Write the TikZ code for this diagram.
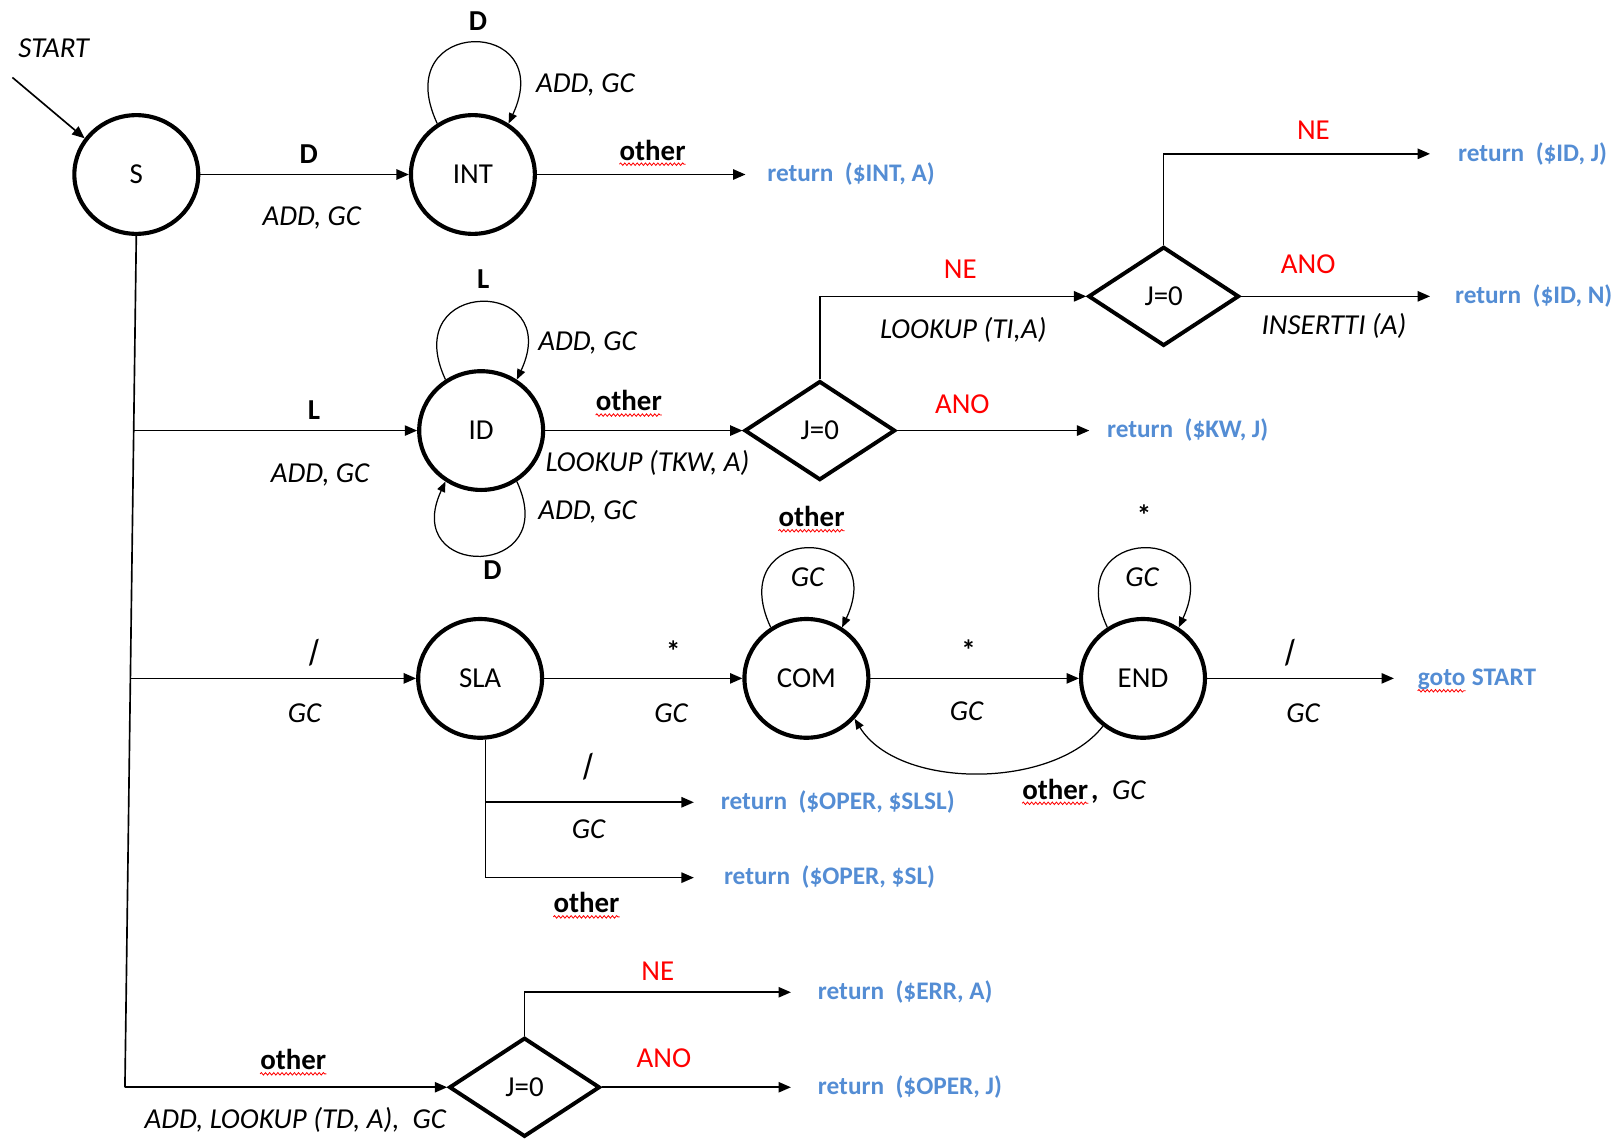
\documentclass[tikz,border=0pt]{standalone}
\usepackage{fontspec}
\setmainfont{Carlito}
\usetikzlibrary{shapes.geometric,arrows.meta,decorations.pathmorphing}
\definecolor{retblue}{RGB}{84,141,212}
\newcommand\steepslash{\rotatebox[origin=c]{16}{/}}
\begin{document}
\begin{tikzpicture}[x=1pt,y=1pt,
  stnode/.style={ellipse,draw,line width=4pt,minimum width=120pt,minimum height=115pt,inner sep=0pt,font=\fontsize{28}{30}\selectfont},
  cond/.style={diamond,draw,line width=3.8pt,minimum width=146pt,minimum height=96pt,inner sep=0pt,font=\fontsize{28}{30}\selectfont},
  lab/.style={inner sep=0pt,anchor=base,font=\fontsize{28}{30}\selectfont\itshape},
  blab/.style={inner sep=0pt,anchor=base,font=\fontsize{28}{30}\selectfont\bfseries},
  slab/.style={inner sep=0pt,anchor=center,font=\fontsize{31}{33}\selectfont\bfseries\itshape},
  rlab/.style={inner sep=0pt,anchor=base,text=red,font=\fontsize{28}{30}\selectfont},
  ret/.style={inner sep=0pt,anchor=west,text=retblue,text height=17pt,text depth=3pt,font=\fontsize{24.5}{26}\selectfont\bfseries},
  conn/.style={line width=1.6pt,-{Triangle[length=12pt,width=10pt]}},
  wire/.style={line width=1.6pt},
  loopline/.style={line width=1.2pt,-{Triangle[length=10pt,width=8pt]}},
  wavy/.style={red,line width=0.8pt,decorate,decoration={snake,amplitude=1.2pt,segment length=4pt}},
]
\useasboundingbox (0,0) rectangle (1568,-1103);

% states
\node[stnode] (S) at (132,-169) {S};
\node[stnode] (INT) at (458,-169) {INT};
\node[stnode] (ID) at (466,-417) {ID};
\node[stnode] (SLA) at (465,-657) {SLA};
\node[stnode] (COM) at (781,-657) {COM};
\node[stnode] (END) at (1107,-657) {END};
\node[cond] (d1) at (794,-417) {J=0};
\node[cond] (d2) at (1127,-287) {J=0};
\node[cond] (d3) at (508,-1053) {J=0};

% return texts
\node[ret] (rint) at (743,-169) {return\ \ (\$INT, A)};
\node[ret] (ridj) at (1412,-149) {return\ \ (\$ID, J)};
\node[ret] (ridn) at (1409,-287) {return\ \ (\$ID, N)};
\node[ret] (rkw) at (1072,-417) {return\ \ (\$KW, J)};
\node[ret] (gotow) at (1373,-657) {goto};
\node[ret,anchor=base west] (gotos) at ([xshift=6pt]gotow.base east) {START};
\node[ret] (rslsl) at (698,-777) {return\ \ (\$OPER, \$SLSL)};
\node[ret] (rsl) at (701,-850) {return\ \ (\$OPER, \$SL)};
\node[ret] (rerr) at (792,-961) {return\ \ (\$ERR, A)};
\node[ret] (roperj) at (792,-1053) {return\ \ (\$OPER, J)};

% coordinates
\coordinate (st) at (12,-75);
\coordinate (b3) at (121,-1053);
\coordinate (b1) at (129.5,-417);
\coordinate (b2) at (126.3,-657);
\coordinate (sb1) at (SLA.-85 |- 0,-777);
\coordinate (sb2) at (SLA.-85 |- 0,-850);

% connectors
\draw[conn] (st) -- (S.145);
\draw[conn] (S) -- (INT);
\draw[wire] (S.south) -- (b3);
\draw[conn] (b1) -- (ID.west);
\draw[conn] (b2) -- (SLA.west);
\draw[conn] (b3) -- (d3.west);
\draw[conn,shorten >=21pt] (INT.east) -- (rint.west);
\draw[conn] (ID) -- (d1);
\draw[conn] (d1.north) |- (d2.west);
\draw[conn,shorten >=27pt] (d2.north) |- (ridj.west);
\draw[conn,shorten >=24pt] (d2.east) -- (ridn.west);
\draw[conn,shorten >=17pt] (d1.east) -- (rkw.west);
\draw[conn] (SLA) -- (COM);
\draw[conn] (COM) -- (END);
\draw[conn,shorten >=23pt] (END.east) -- (gotow.west);
\draw[wire] (SLA.-85) -- (sb2);
\draw[conn,shorten >=26pt] (sb1) -- (rslsl.west);
\draw[conn,shorten >=29pt] (sb2) -- (rsl.west);
\draw[conn,shorten >=26pt] (d3.north) |- (rerr.west);
\draw[conn,shorten >=26pt] (d3.east) -- (roperj.west);

% loops
\draw[loopline] (INT.125) .. controls +(115:115) and +(65:115) .. (INT.55);
\draw[loopline] (ID.125) .. controls +(115:110) and +(65:110) .. (ID.55);
\draw[loopline] (ID.-55) .. controls +(-65:105) and +(-115:105) .. (ID.-125);
\draw[loopline] (COM.125) .. controls +(115:112) and +(65:112) .. (COM.55);
\draw[loopline] (END.125) .. controls +(115:112) and +(65:112) .. (END.55);
\draw[loopline] (END.-130) .. controls (1020,-765) and (870,-765) .. (COM.-40);

% labels
\node[lab] (lstart) at (52,-56) {START};
\node[blab] (lintD) at (463,-30) {D};
\node[lab] (lintadd) at (567,-90) {ADD, GC};
\node[blab] (lsD) at (299,-158) {D};
\node[lab] (lsadd) at (302,-218) {ADD, GC};
\node[blab] (oint) at (632,-155) {other};
\node[rlab] (ne1) at (1272,-135) {NE};
\node[rlab] (ne2) at (930,-270) {NE};
\node[lab] (lti) at (933,-328) {LOOKUP (TI,A)};
\node[rlab] (ano2) at (1267,-265) {ANO};
\node[lab] (lins) at (1292,-324) {INSERTTI (A)};
\node[blab] (lidL) at (468,-279) {L};
\node[lab] (lidadd1) at (569,-339) {ADD, GC};
\node[blab] (lsL) at (304,-406) {L};
\node[lab] (lsadd2) at (310,-467) {ADD, GC};
\node[blab] (oid) at (609,-398) {other};
\node[lab] (ltkw) at (627,-457) {LOOKUP (TKW, A)};
\node[rlab] (ano1) at (932,-400) {ANO};
\node[lab] (lidadd2) at (569,-503) {ADD, GC};
\node[blab] (lidD) at (477,-561) {D};
\node[blab] (ocom) at (786,-510) {other};
\node[blab] (aend) at (1108,-509) {*};
\node[lab] (gccom) at (782,-568) {GC};
\node[lab] (gcend) at (1106,-568) {GC};
\node[slab] (sl1) at (304,-632) {\steepslash};
\node[lab] (gc1) at (295,-700) {GC};
\node[blab] (a1) at (652,-641) {*};
\node[lab] (gc2) at (650,-700) {GC};
\node[blab] (a2) at (938,-640) {*};
\node[lab] (gc3) at (936,-698) {GC};
\node[slab] (sl2) at (1250,-632) {\steepslash};
\node[lab] (gc4) at (1262,-700) {GC};
\node[blab] (oback) at (1022,-774) {other};
\node[lab,anchor=base west] (gcback) at ([xshift=3pt]oback.base east) {{\bfseries ,}\ \ GC};
\node[slab] (sl3) at (570,-743) {\steepslash};
\node[lab] (gc5) at (570,-812) {GC};
\node[blab] (osla) at (568,-884) {other};
\node[rlab] (ne3) at (637,-950) {NE};
\node[blab] (os) at (284,-1036) {other};
\node[rlab] (ano3) at (643,-1034) {ANO};
\node[lab] (ltd) at (286,-1093) {ADD, LOOKUP (TD, A),\ \ GC};

% wavy underlines
\foreach \n in {oint,oid,ocom,oback,osla,os}
  \draw[wavy] ([yshift=-4pt]\n.base west) -- ([yshift=-4pt]\n.base east);
\draw[wavy] ([yshift=-5pt]gotow.base west) -- ([yshift=-5pt]gotow.base east);
\end{tikzpicture}
\end{document}
